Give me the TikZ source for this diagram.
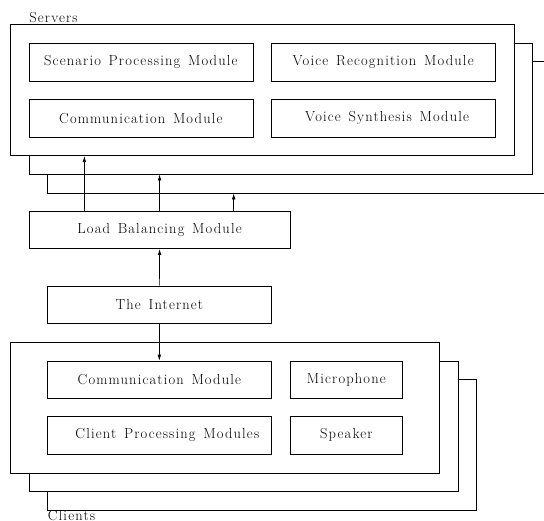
\documentclass[tikz,border=0pt]{standalone}
\usepackage{fontspec}
\setmainfont{Latin Modern Roman}[LetterSpace=8, WordSpace=1.4]
\usetikzlibrary{arrows.meta}
\begin{document}
\begin{tikzpicture}
  [x=1pt, y=-1pt, line width=0.7pt,
   every node/.style={font=\fontsize{14.5}{17}\selectfont},
   frame/.style={draw, fill=white, anchor=north west, inner sep=0pt},
   module/.style={draw, anchor=north west, inner sep=0pt,
                  minimum width=224, minimum height=37.2},
   small/.style={module, minimum width=112},
   caption/.style={anchor=base west, inner sep=0pt},
   link/.style={-{Latex[length=6pt,width=3.6pt]}}]
  \clip (0,0) rectangle (544,520);
  % server stack, back to front
  \node[frame, minimum width=520, minimum height=131.7] (srvC) at (47,61) {};
  \node[frame, minimum width=503.5, minimum height=130.4] (srvB) at (28.5,43.3) {};
  \node[frame, minimum width=504.3, minimum height=131] (srvA) at (9.7,24.3) {};
  \node[caption] (srvlabel) at (29,22) {Servers};
  \node[module] (scen) at (28.5,43.3) {Scenario Processing Module};
  \node[module] (recog) at (270.8,43.3) {Voice Recognition Module};
  \node[module] (scomm) at (28.5,99.3) {Communication Module};
  \node[module] (synth) at (270.8,99.3) {\hspace*{8pt}Voice Synthesis Module};
  % middle part
  \node[module, minimum width=261.5] (lb) at (28.5,211) {Load Balancing Module};
  \node[module] (inet) at (47,285.7) {The Internet};
  % client stack, back to front
  \node[frame, minimum width=429.4, minimum height=130.4] (cliC) at (47,379.3) {};
  \node[frame, minimum width=429.1, minimum height=130.3] (cliB) at (28.5,360.7) {};
  \node[frame, minimum width=429.3, minimum height=131] (cliA) at (9.7,341.7) {};
  \node[caption] (clilabel) at (47.5,520.5) {Clients};
  \node[module] (ccomm) at (47,360.7) {Communication Module};
  \node[small] (mic) at (290,360.7) {Microphone};
  \node[module] (cproc) at (47,416.3) {\hspace*{16pt}Client Processing Modules};
  \node[small] (spk) at (290,416.3) {Speaker};
  % connectors
  \coordinate (toA) at (84.4,0);
  \coordinate (toC) at (233.7,0);
  \draw[link] (lb.north -| toA) -- (srvA.south -| toA);
  \draw[link] (lb.north) -- (lb.north |- srvB.south);
  \draw[link] (lb.north -| toC) -- (srvC.south -| toC);
  \draw[link] (inet.north) -- (lb.south);
  \draw[link] (inet.south) -- (ccomm.north);
\end{tikzpicture}
\end{document}
